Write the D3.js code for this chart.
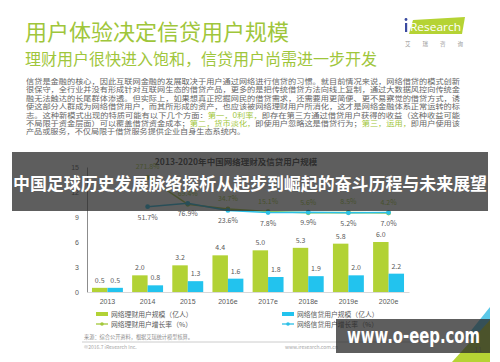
<!DOCTYPE html>
<html>
<head>
  <meta charset="utf-8">
  <title>用户体验决定信贷用户规模</title>
  <style>
    body { margin: 0; background: #fff; }
    svg { display: block; font-family: "Noto Sans CJK SC", "Noto Sans", sans-serif; }
    .axis text { fill: #595959; font-size: 7px; }
  </style>
</head>
<body>
  <script src="https://cdnjs.cloudflare.com/ajax/libs/d3/7.8.5/d3.min.js"></script>
  <script>
// chart data
var years = ["2013", "2014", "2015", "2016e", "2017e", "2018e", "2019e", "2020e"];
var licaiUsers = [0.5, 2.0, 3.2, 4.4, 5.0, 5.3, 5.8, 6.0];
var xindaiUsers = [0.5, 0.8, 1.3, 1.6, 1.8, 1.9, 2.0, 2.2];
var licaiGrowth = [null, 271.8, 69.4, 34.7, 15.1, 5.6, 8.5, 4.2];
var xindaiGrowth = [null, 51.7, 76.9, 23.6, 7.8, 9.9, 5.2, 7.0];
var yTicks = [0, 3, 6, 9, 12, 15];
var legendLabels = ["网络理财用户规模（亿人）", "网络理财用户增长率（%）", "网络信贷用户规模（亿人）", "网络信贷用户增长率（%）"];

var paragraph = [
  [["信贷是金融的核心，因此互联网金融的发展取决于用户通过网络进行信贷的习惯。就目前情况来说，网络借贷的模式创新", 0]],
  [["很保守，全行业并没有形成针对互联网生态的借贷产品，更多的是把传统借贷方法向线上复制，通过大数据风控向传统金", 0]],
  [["融无法触达的长尾群体渗透。但实际上，如果想真正挖掘网民的借贷需求，还需要用更简便、更不易察觉的借贷方式，诱", 0]],
  [["使这部分人群成为网络借贷用户，而其所形成的资产，也应该被网络理财用户所消化，这才是网络金融体系正常运转的标", 0]],
  [["志。这种新模式出现的特质可能有以下几个方面：", 0], ["第一，0利率，", 1], ["即存在第三方通过借贷用户获得的收益（这种收益可能", 0]],
  [["不局限于资金层面）可以覆盖借贷资金成本；", 0], ["第二，货币淡化，", 1], ["即使用户忽略这是借贷行为；", 0], ["第三，运用，", 1], ["即用户使用该", 0]],
  [["产品或服务，不仅局限于借贷服务提供企业自身生态系统内。", 0]]
];

var lime = "#b2d235";
var blue = "#22c3ee";
var green = "#9fc63b";

var svg = d3.select("body")
  .append("svg")
  .attr("width", 500)
  .attr("height", 362);

// heading
svg.append("text")
  .attr("x", 25).attr("y", 40)
  .attr("fill", green)
  .attr("font-size", 22)
  .text("用户体验决定信贷用户规模");

svg.append("text")
  .attr("x", 25).attr("y", 65)
  .attr("fill", green)
  .attr("font-size", 16)
  .text("理财用户很快进入饱和，信贷用户尚需进一步开发");

// iResearch logo
svg.append("path")
  .attr("d", "M413,20 L465,17 L462,34 L409,34 Z")
  .attr("fill", "#b5d334");
svg.append("circle").attr("cx", 406).attr("cy", 19.5).attr("r", 1.4).attr("fill", "#3a4aa0");
svg.append("rect").attr("x", 405).attr("y", 23).attr("width", 2.2).attr("height", 9).attr("fill", "#3a4aa0");
svg.append("text")
  .attr("x", 410).attr("y", 31)
  .attr("fill", "#fff")
  .attr("font-size", 10.5)
  .attr("font-family", "Open Sans, sans-serif")
  .attr("textLength", 51)
  .attr("lengthAdjust", "spacingAndGlyphs")
  .text("Research");
svg.append("text")
  .attr("x", 405).attr("y", 46)
  .attr("fill", "#999")
  .attr("font-size", 5.5)
  .attr("textLength", 58)
  .attr("lengthAdjust", "spacing")
  .text("艾瑞咨询");

// body paragraph
paragraph.forEach(function(line, i) {
  var t = svg.append("text")
    .attr("x", 26)
    .attr("y", 84 + i * 8.4)
    .attr("font-size", 7)
    .attr("fill", "#666");
  if (i < paragraph.length - 1) {
    t.attr("textLength", 434).attr("lengthAdjust", "spacingAndGlyphs");
  } else {
    t.attr("textLength", 219).attr("lengthAdjust", "spacingAndGlyphs");
  }
  line.forEach(function(part) {
    t.append("tspan")
      .attr("fill", part[1] ? green : "#666")
      .text(part[0]);
  });
});

// chart
var x = d3.scaleBand()
  .domain(years)
  .range([87, 409])
  .paddingInner(0.23)
  .paddingOuter(0.124);

var xSub = d3.scaleBand()
  .domain([0, 1])
  .range([0, x.bandwidth()]);

var y = d3.scaleLinear().domain([0, 15]).range([292, 167]);
var y2 = d3.scaleLinear().domain([-590, 350]).range([292, 167]);

svg.append("text")
  .attr("x", 236).attr("y", 165)
  .attr("text-anchor", "middle")
  .attr("font-size", 8.5)
  .attr("font-weight", "bold")
  .attr("fill", "#404040")
  .text("2013-2020年中国网络理财及信贷用户规模");

var yAxis = svg.append("g")
  .attr("class", "axis")
  .attr("transform", "translate(87,0)")
  .call(d3.axisLeft(y).tickValues(yTicks).tickSize(0).tickPadding(8));
yAxis.select(".domain").attr("stroke", "#8c8c8c");

var xAxis = svg.append("g")
  .attr("class", "axis")
  .attr("transform", "translate(0,292)")
  .call(d3.axisBottom(x).tickSize(0).tickPadding(7));
xAxis.select(".domain").attr("stroke", "#d9d9d9");

var series = [licaiUsers, xindaiUsers];
var colors = [lime, blue];

series.forEach(function(values, s) {
  svg.append("g")
    .selectAll("rect")
    .data(values)
    .enter()
    .append("rect")
    .attr("x", function(d, i) { return x(years[i]) + xSub(s); })
    .attr("y", function(d) { return y(d); })
    .attr("width", xSub.bandwidth())
    .attr("height", function(d) { return y(0) - y(d); })
    .attr("fill", colors[s]);

  svg.append("g")
    .selectAll("text")
    .data(values)
    .enter()
    .append("text")
    .attr("x", function(d, i) { return x(years[i]) + xSub(s) + xSub.bandwidth() / 2; })
    .attr("y", function(d) { return y(d) - 5; })
    .attr("text-anchor", "middle")
    .attr("font-size", 7)
    .attr("fill", "#595959")
    .text(function(d) { return d.toFixed(1); });
});

// growth lines
var cx = function(i) { return x(years[i]) + x.bandwidth() / 2; };
var line = d3.line()
  .defined(function(d) { return d != null; })
  .x(function(d, i) { return cx(i); })
  .y(function(d) { return y2(d); });

var growth = [licaiGrowth, xindaiGrowth];
var lineColors = ["#a3c83a", "#2bbfe6"];
var labelOffset = [-8, 13];

growth.forEach(function(values, s) {
  svg.append("path")
    .datum(values)
    .attr("d", line)
    .attr("fill", "none")
    .attr("stroke", lineColors[s])
    .attr("stroke-width", 1.5);

  var pts = values.map(function(d, i) { return { v: d, i: i }; })
    .filter(function(p) { return p.v != null; });

  svg.append("g")
    .selectAll("circle")
    .data(pts)
    .enter()
    .append("circle")
    .attr("cx", function(p) { return cx(p.i); })
    .attr("cy", function(p) { return y2(p.v); })
    .attr("r", 2.4)
    .attr("fill", lineColors[s]);

  svg.append("g")
    .selectAll("text")
    .data(pts)
    .enter()
    .append("text")
    .attr("x", function(p) { return cx(p.i); })
    .attr("y", function(p) { return y2(p.v) + labelOffset[s]; })
    .attr("text-anchor", "middle")
    .attr("font-size", 7)
    .attr("fill", s === 0 ? "#a3c83a" : "#595959")
    .text(function(p) { return p.v.toFixed(1) + "%"; });
});

// legend
var legendPos = [[96, 314], [96, 324], [282, 314], [282, 324]];
legendLabels.forEach(function(label, i) {
  var p = legendPos[i];
  var c = i < 2 ? lime : blue;
  if (i % 2 === 0) {
    svg.append("rect").attr("x", p[0]).attr("y", p[1] - 2).attr("width", 12).attr("height", 4).attr("fill", c);
  } else {
    svg.append("line").attr("x1", p[0]).attr("x2", p[0] + 12).attr("y1", p[1]).attr("y2", p[1])
      .attr("stroke", i < 2 ? "#a3c83a" : "#2bbfe6").attr("stroke-width", 1.3);
    svg.append("circle").attr("cx", p[0] + 6).attr("cy", p[1]).attr("r", 1.8).attr("fill", i < 2 ? "#a3c83a" : "#2bbfe6");
  }
  svg.append("text")
    .attr("x", p[0] + 15).attr("y", p[1] + 2.5)
    .attr("font-size", 6.8)
    .attr("fill", "#595959")
    .text(label);
});

// source notes
svg.append("text")
  .attr("x", 84).attr("y", 339)
  .attr("font-size", 5.2)
  .attr("fill", "#8c8c8c")
  .text("来源：综合公开资料，根据艾瑞统计模型核算。");
svg.append("line")
  .attr("x1", 82).attr("x2", 420).attr("y1", 342).attr("y2", 342)
  .attr("stroke", "#bfbfbf").attr("stroke-width", 0.8);
svg.append("text")
  .attr("x", 84).attr("y", 349)
  .attr("font-size", 5)
  .attr("fill", "#a6a6a6")
  .text("©2016.7 iResearch Inc.");
svg.append("text")
  .attr("x", 285).attr("y", 349)
  .attr("font-size", 5)
  .attr("fill", "#a6a6a6")
  .text("www.iresearch.com.cn");

// corner decoration
svg.append("path").attr("d", "M490,307 L490,345 L465,338 Z").attr("fill", "#5bc8e8");
svg.append("path").attr("d", "M490,320 L490,362 L452,362 Z").attr("fill", "#b5d334");
svg.append("text")
  .attr("x", 478).attr("y", 352)
  .attr("text-anchor", "middle")
  .attr("font-size", 7)
  .attr("fill", "#8c8c8c")
  .text("11");

// overlay banner
svg.append("rect")
  .attr("x", 12).attr("y", 152)
  .attr("width", 476).attr("height", 59)
  .attr("fill", "rgba(40,40,40,0.75)");
svg.append("text")
  .attr("x", 13).attr("y", 190)
  .attr("font-size", 17)
  .attr("font-weight", "bold")
  .attr("fill", "#fff")
  .attr("textLength", 474)
  .attr("lengthAdjust", "spacingAndGlyphs")
  .text("中国足球历史发展脉络探析从起步到崛起的奋斗历程与未来展望");

// watermark
svg.append("rect")
  .attr("x", 336).attr("y", 319)
  .attr("width", 154).attr("height", 34)
  .attr("fill", "rgba(40,40,40,0.75)");
svg.append("text")
  .attr("x", 347).attr("y", 343)
  .attr("font-size", 21)
  .attr("font-weight", "bold")
  .attr("font-family", "DejaVu Sans, sans-serif")
  .attr("fill", "#fff")
  .attr("textLength", 133)
  .attr("lengthAdjust", "spacingAndGlyphs")
  .text("www.o-eep.com");
  </script>
</body>
</html>
